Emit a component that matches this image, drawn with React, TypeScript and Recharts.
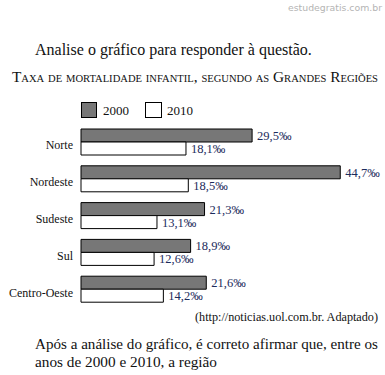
import React from "react";
import { BarChart, Bar, XAxis, YAxis, LabelList } from "recharts";

const regions = ["Norte", "Nordeste", "Sudeste", "Sul", "Centro-Oeste"];
const rate2000 = [29.5, 44.7, 21.3, 18.9, 21.6];
const rate2010 = [18.1, 18.5, 13.1, 12.6, 14.2];
const years = ["2000", "2010"];

const data = regions.map((name, i) => ({
  name,
  y2000: rate2000[i],
  y2010: rate2010[i],
}));

const serif = '"Liberation Serif", "Times New Roman", serif';
const labelColor = "#1c2b5c";

const fmt = (v: any) => `${Number(v).toFixed(1).replace(".", ",")}‰`;

function RegionTick({ x, y, payload }: any) {
  return (
    <text
      x={x}
      y={y}
      dy={7}
      textAnchor="end"
      fontSize={12}
      fontFamily={serif}
      fill="#111"
    >
      {payload.value}
    </text>
  );
}

export default function App() {
  return (
    <div
      style={{
        position: "absolute",
        left: 0,
        top: 0,
        width: 385,
        height: 375,
        background: "#fff",
        fontFamily: serif,
      }}
    >
      <svg
        width={385}
        height={375}
        style={{ position: "absolute", left: 0, top: 0 }}
      >
        <text
          x={288}
          y={11}
          textLength={94}
          lengthAdjust="spacingAndGlyphs"
          fontSize={9.5}
          fontFamily='"DejaVu Sans", sans-serif'
          fill="#b4b4b4"
        >
          estudegratis.com.br
        </text>
        <text x={35} y={55} fontSize={16} fontFamily={serif} fill="#111">
          Analise o gráfico para responder à questão.
        </text>
        <text
          x={12}
          y={82}
          textLength={366}
          lengthAdjust="spacingAndGlyphs"
          fontSize={14.5}
          fontFamily={serif}
          fill="#111"
          style={{ fontVariant: "small-caps" }}
        >
          Taxa de mortalidade infantil, segundo as Grandes Regiões
        </text>
        {/* legend */}
        <rect x={81.5} y={102.5} width={15} height={15} fill="#777" stroke="#000" />
        <text x={103} y={115} fontSize={13} fontFamily={serif} fill="#111">
          {years[0]}
        </text>
        <rect x={145.5} y={102.5} width={16} height={15} fill="#fff" stroke="#000" />
        <text x={167} y={115} fontSize={13} fontFamily={serif} fill="#111">
          {years[1]}
        </text>
        <text
          x={195}
          y={321}
          textLength={183}
          lengthAdjust="spacingAndGlyphs"
          fontSize={12.5}
          fontFamily={serif}
          fill="#111"
        >
          (http://noticias.uol.com.br. Adaptado)
        </text>
        <text
          x={35}
          y={349}
          textLength={343}
          lengthAdjust="spacingAndGlyphs"
          fontSize={15}
          fontFamily={serif}
          fill="#111"
        >
          Após a análise do gráfico, é correto afirmar que, entre os
        </text>
        <text
          x={35}
          y={367}
          textLength={182}
          lengthAdjust="spacingAndGlyphs"
          fontSize={15.5}
          fontFamily={serif}
          fill="#111"
        >
          anos de 2000 e 2010, a região
        </text>
      </svg>
      <div style={{ position: "absolute", left: 0, top: 0 }}>
        <BarChart
          width={385}
          height={375}
          data={data}
          layout="vertical"
          margin={{ top: 124, right: 14, bottom: 67, left: 0 }}
          barSize={13}
          barGap={0}
        >
          <XAxis type="number" domain={[0, 50]} hide />
          <YAxis
            type="category"
            dataKey="name"
            width={81}
            axisLine={false}
            tickLine={false}
            tickMargin={2}
            tick={<RegionTick />}
            interval={0}
          />
          <Bar
            dataKey="y2000"
            fill="#777777"
            stroke="#000"
            strokeWidth={1}
            isAnimationActive={false}
          >
            <LabelList
              dataKey="y2000"
              position="right"
              offset={5}
              formatter={fmt}
              fill={labelColor}
              fontSize={12.5}
              fontFamily={serif}
            />
          </Bar>
          <Bar
            dataKey="y2010"
            fill="#ffffff"
            stroke="#000"
            strokeWidth={1}
            isAnimationActive={false}
          >
            <LabelList
              dataKey="y2010"
              position="right"
              offset={5}
              formatter={fmt}
              fill={labelColor}
              fontSize={12.5}
              fontFamily={serif}
            />
          </Bar>
        </BarChart>
      </div>
    </div>
  );
}
